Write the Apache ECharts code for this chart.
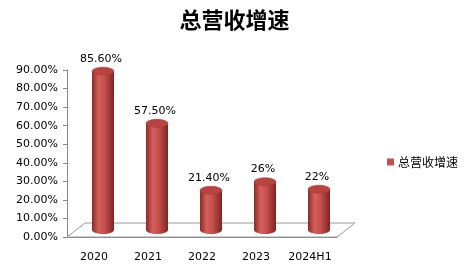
<!DOCTYPE html>
<html><head><meta charset="utf-8">
<script src="https://cdn.jsdelivr.net/npm/echarts@6/dist/echarts.min.js"></script>
<style>html,body{margin:0;padding:0;background:#fff}#c{width:469px;height:272px}</style>
</head><body><div id="c"></div>
<script>
const categories = ['2020', '2021', '2022', '2023', '2024H1'];
const values = [85.6, 57.5, 21.4, 26, 22];
const valueLabels = ['85.60%', '57.50%', '21.40%', '26%', '22%'];
const seriesName = '总营收增速';
const titleText = '总营收增速';

const chart = echarts.init(document.getElementById('c'), null, {renderer: 'canvas'});
const DX = 9, DY = 7, FDX = 18, FDY = 14;
const barGrad = new echarts.graphic.LinearGradient(0, 0, 1, 0, [
  {offset: 0, color: '#8a2a27'},
  {offset: 0.3, color: '#d45f5b'},
  {offset: 0.55, color: '#c8524f'},
  {offset: 1, color: '#7e2422'}
]);
chart.setOption({
  animation: false,
  title: {text: titleText, left: 'center', top: 4,
    textStyle: {fontSize: 22, fontWeight: 'bold', color: '#000', fontFamily: 'Noto Sans CJK SC'}},
  legend: {left: 382, top: 151, itemWidth: 7, itemHeight: 7, itemGap: 4, icon: 'rect',
    textStyle: {fontSize: 12, color: '#000', fontFamily: 'Noto Sans CJK SC', padding: [0, 0, 0, -1]},
    data: [seriesName]},
  grid: {left: 67, right: 132, top: 70, bottom: 35},
  xAxis: {type: 'category', data: categories,
    axisLine: {lineStyle: {color: '#888'}},
    axisTick: {length: 5, lineStyle: {color: '#888'}},
    axisLabel: {interval: 0, color: '#000', fontSize: 11, fontFamily: 'DejaVu Sans', margin: 15}},
  yAxis: {type: 'value', min: 0, max: 90, interval: 10,
    axisLine: {show: true, lineStyle: {color: '#888'}},
    axisTick: {show: true, length: 4, lineStyle: {color: '#888'}},
    splitLine: {show: false},
    axisLabel: {color: '#000', fontSize: 11, fontFamily: 'DejaVu Sans', margin: 9,
      formatter: v => v.toFixed(2) + '%'}},
  series: [
    {type: 'custom', name: 'floor', silent: true, z: 1, legendHoverLink: false,
      data: [0],
      renderItem: function (params, api) {
        const cs = params.coordSys;
        const b = cs.y + cs.height;
        return {type: 'polygon', shape: {points: [
          [cs.x, b], [cs.x + cs.width, b], [cs.x + cs.width + FDX, b - FDY], [cs.x + FDX, b - FDY]
        ]}, style: {fill: '#fff', stroke: '#999', lineWidth: 1}};
      }},
    {type: 'custom', name: seriesName, z: 3,
      itemStyle: {color: '#C0504D'},
      data: values.map((v, i) => [i, v]),
      renderItem: function (params, api) {
        const top = api.coord([api.value(0), api.value(1)]);
        const base = api.coord([api.value(0), 0]);
        const w = 22, rx = 11, ry = 4;
        const cx = top[0] + DX;
        const ty = top[1] - DY;
        const by = base[1] - DY;
        return {type: 'group', children: [
          {type: 'ellipse', shape: {cx: cx, cy: by, rx: rx, ry: ry}, style: {fill: barGrad}},
          {type: 'rect', shape: {x: cx - w / 2, y: ty, width: w, height: by - ty}, style: {fill: barGrad}},
          {type: 'ellipse', shape: {cx: cx, cy: ty, rx: rx, ry: ry}, style: {fill: '#b8433f', stroke: '#a83c39', lineWidth: 0.5}},
          {type: 'text', style: {text: valueLabels[params.dataIndex], x: cx - 2, y: ty - ry - 3,
            align: 'center', verticalAlign: 'bottom', fill: '#000', fontSize: 11, fontFamily: 'DejaVu Sans'}}
        ]};
      }}
  ]
});
</script></body></html>
